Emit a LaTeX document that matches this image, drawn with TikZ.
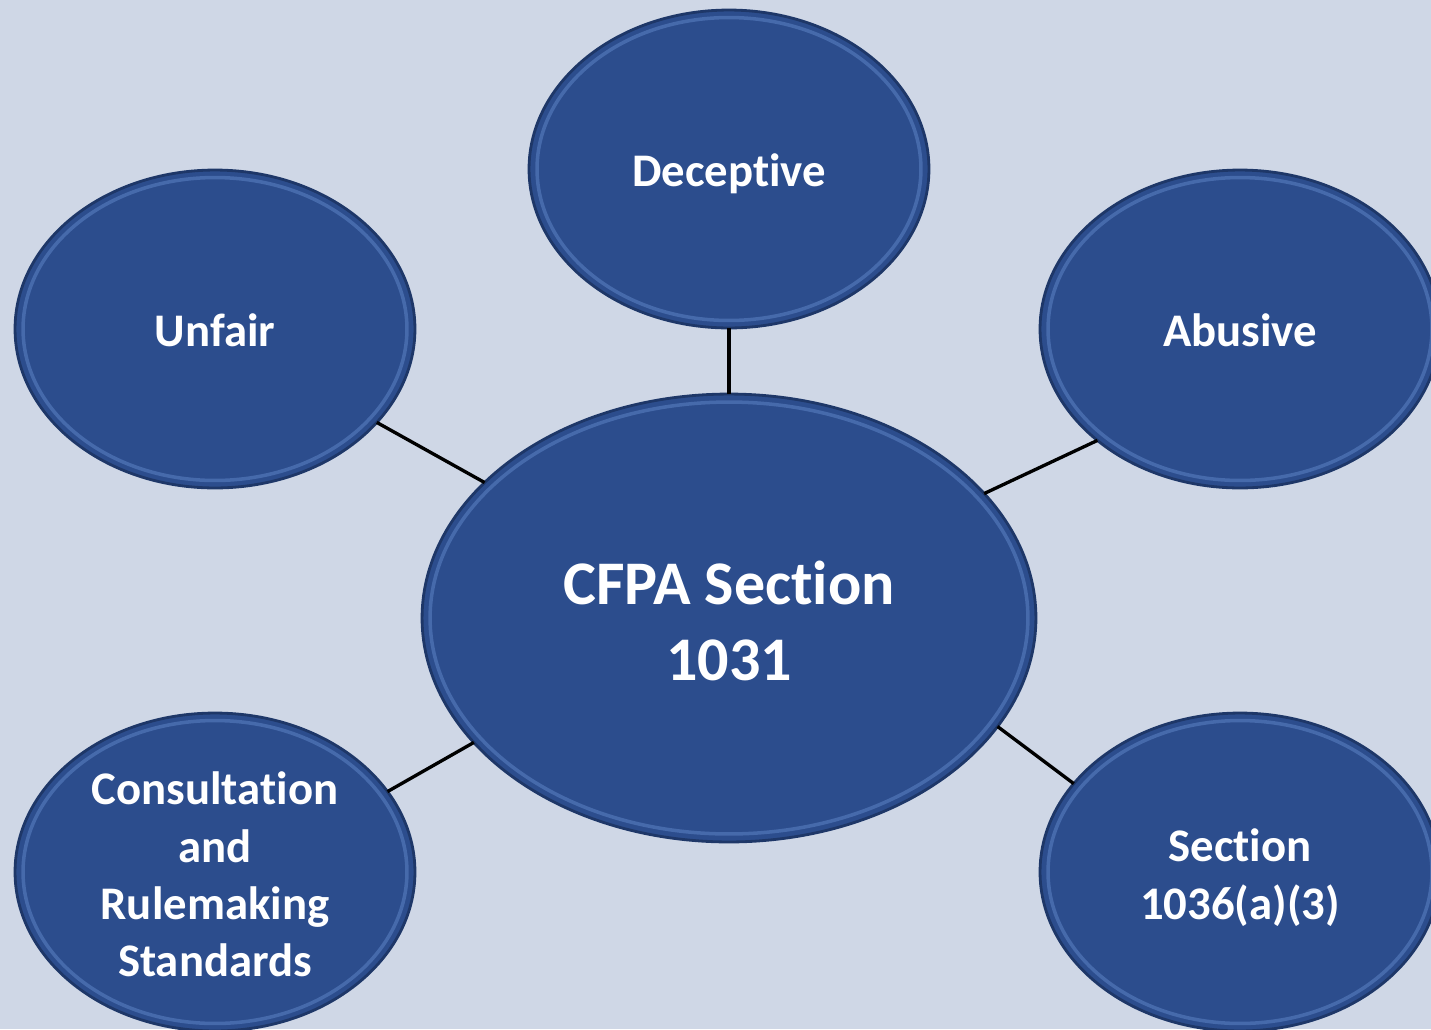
\documentclass[tikz,border=0pt]{standalone}
\usepackage{fontspec}
\setmainfont{Carlito}[RawFeature={-liga;-clig;-dlig;-calt}]
\usetikzlibrary{shapes.geometric}
\definecolor{bgcol}{HTML}{CFD7E6}
\definecolor{ovalfill}{HTML}{2C4D8D}
\definecolor{ovaledge}{HTML}{1E3768}
\definecolor{ovalrim}{HTML}{4F74B6}
\tikzset{
  oval/.style={ellipse, fill=ovalfill, draw=ovaledge, line width=1.6pt,
    inner sep=0pt, outer sep=0pt},
  small/.style={oval, minimum width=8cm, minimum height=6.36cm},
  big/.style={oval, minimum width=12.28cm, minimum height=8.96cm},
  lbl/.style={text=white, align=center, inner sep=0pt,
    font=\fontsize{26.6pt}{32.6pt}\selectfont\bfseries},
  biglbl/.style={lbl, font=\fontsize{35.3pt}{43.1pt}\selectfont\bfseries},
  rim/.style={draw=ovalrim, line width=2pt, opacity=0.75},
  link/.style={draw=black, line width=1.9pt}
}
\begin{document}
\begin{tikzpicture}[x=0.02cm, y=-0.02cm]
  \useasboundingbox (0,0) rectangle (1431,1029);
  \clip (0,0) rectangle (1431,1029);
  \fill[bgcol] (0,0) rectangle (1431,1029);

  % the six ovals
  \node[big] (c) at (729,618) {};
  \node[small] (dec) at (729,169) {};
  \node[small] (unf) at (215,329) {};
  \node[small] (abu) at (1240,329) {};
  \node[small] (con) at (215,872) {};
  \node[small] (sec) at (1240,872) {};

  % connectors from the hub to each oval
  \draw[link] (dec.south) -- (c.north);
  \draw[link] (unf.330) -- (c.151);
  \draw[link] (abu.218) -- (c.26);
  \draw[link] (con.25) -- (c.206);
  \draw[link] (sec.152) -- (c.338);

  % bevelled inner rims
  \foreach \n in {dec,unf,abu,con,sec}
    \draw[rim] (\n.center) ellipse [x radius=3.84cm, y radius=3.03cm];
  \draw[rim] (c.center) ellipse [x radius=5.98cm, y radius=4.32cm];

  % labels (kerns keep t and i as separate glyphs)
  \node[biglbl] (ct) at ([yshift=-0.06cm]c.center) {CFPA Sect\kern0pt ion\\1031};
  \node[lbl] (dect) at ([yshift=-0.09cm]dec.center) {Decept\kern0pt ive};
  \node[lbl] (unft) at ([yshift=-0.03cm]unf.center) {Unfair};
  \node[lbl] (abut) at ([yshift=-0.03cm]abu.center) {Abusive};
  \node[lbl] (cont) at ([yshift=-0.05cm]con.center) {Consultat\kern0pt ion\\and\\Rulemaking\\Standards};
  \node[lbl] (sect) at ([yshift=-0.11cm]sec.center) {Sect\kern0pt ion\\1036(a)(3)};
\end{tikzpicture}
\end{document}
